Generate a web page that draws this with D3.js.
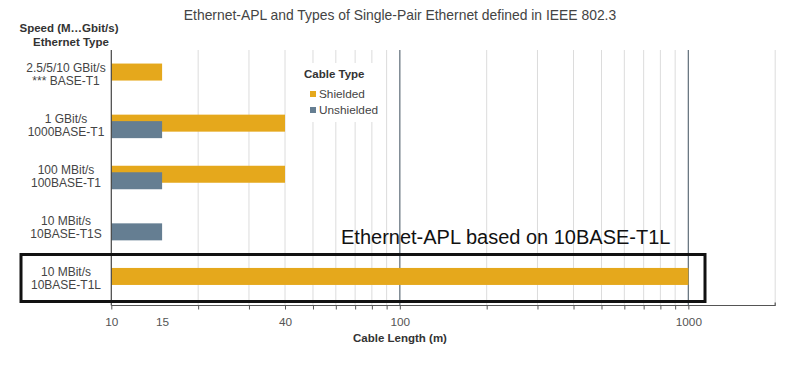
<!DOCTYPE html>
<html><head><meta charset="utf-8">
<script src="https://cdn.jsdelivr.net/npm/d3@7"></script>
<style>body{margin:0;background:#fff}svg{display:block;font-family:"Liberation Sans",Arial,sans-serif}</style>
</head><body><svg id="c" width="800" height="366"></svg>
<script>
const categories = [
  ["2.5/5/10 GBit/s", "*** BASE-T1"],
  ["1 GBit/s", "1000BASE-T1"],
  ["100 MBit/s", "100BASE-T1"],
  ["10 MBit/s", "10BASE-T1S"],
  ["10 MBit/s", "10BASE-T1L"]
];
const shielded   = [15, 40, 40, null, 1000];
const unshielded = [null, 15, 15, 15, null];
const seriesNames = ["Shielded", "Unshielded"];
const gridMinor = [20,30,40,50,60,70,80,90,200,300,400,500,600,700,800,900,2000];
const gridMajor = [100, 1000];
const tickLabels = [10, 15, 40, 100, 1000];
const title = "Ethernet-APL and Types of Single-Pair Ethernet defined in IEEE 802.3";
const annotation = "Ethernet-APL based on 10BASE-T1L";

const svg = d3.select("#c");
const pL = 111.3, pR = 775.2, pT = 50, pB = 305.5;
const x = d3.scaleLog().domain([10, 2000]).range([pL, pR]);
const keys = categories.map((c,i)=>i);
const y = d3.scaleBand().domain(keys).range([pT, pB]).padding(0);
const colors = {Shielded: "#E5A81C", Unshielded: "#657E92"};
const barH = 17;
const offs = {Shielded: -3.5, Unshielded: 3};

// title
svg.append("text").attr("x", 400).attr("y", 20).attr("text-anchor","middle")
  .attr("font-size", 13.9).attr("fill", "#444").text(title);

// y axis title
const yt = svg.append("text").attr("text-anchor","middle").attr("font-weight","bold")
  .attr("font-size", 11.5).attr("fill","#333");
yt.append("tspan").attr("x", 69).attr("y", 32).text("Speed (M…Gbit/s)");
yt.append("tspan").attr("x", 71).attr("y", 46).text("Ethernet Type");

// gridlines
svg.append("g").selectAll("line").data(gridMinor).join("line")
  .attr("x1", d=>x(d)).attr("x2", d=>x(d)).attr("y1", pT).attr("y2", pB)
  .attr("stroke", "#dcdcdc").attr("stroke-width", 1);
svg.append("g").selectAll("line").data(gridMajor).join("line")
  .attr("x1", d=>x(d)).attr("x2", d=>x(d)).attr("y1", pT).attr("y2", pB)
  .attr("stroke", "#6a7782").attr("stroke-width", 1.3);

// legend background
svg.append("rect").attr("x", 298).attr("y", 63).attr("width", 85).attr("height", 59).attr("fill", "#fff");
svg.append("text").attr("x", 304).attr("y", 78).attr("font-weight","bold").attr("font-size", 11.5)
  .attr("fill","#333").text("Cable Type");
const lg = svg.append("g").selectAll("g").data(seriesNames).join("g")
  .attr("transform", (d,i)=>`translate(310,${98 + i*16})`);
lg.append("rect").attr("x", 0).attr("y", -7).attr("width", 6).attr("height", 6).attr("fill", d=>colors[d]);
lg.append("text").attr("x", 9).attr("y", 0).attr("font-size", 11.8).attr("fill","#444").text(d=>d);

// bars
const drawSeries = (name, vals) => {
  svg.append("g").selectAll("rect").data(vals.map((v,i)=>({v,i})).filter(d=>d.v!=null)).join("rect")
    .attr("x", x(10)).attr("width", d=>x(d.v)-x(10))
    .attr("y", d=>y(d.i) + y.bandwidth()/2 + offs[name] - barH/2).attr("height", barH)
    .attr("fill", colors[name]);
};
drawSeries("Shielded", shielded);
drawSeries("Unshielded", unshielded);

// category labels
const cl = svg.append("g").selectAll("text").data(keys).join("text")
  .attr("text-anchor","middle").attr("font-size", 12).attr("fill","#444");
cl.append("tspan").attr("x", 66).attr("y", d=>y(d)+y.bandwidth()/2 - 3.5).text(d=>categories[d][0]);
cl.append("tspan").attr("x", 66).attr("y", d=>y(d)+y.bandwidth()/2 + 9.5).text(d=>categories[d][1]);

// left axis line
svg.append("line").attr("x1", pL).attr("x2", pL).attr("y1", pT).attr("y2", pB)
  .attr("stroke", "#444").attr("stroke-width", 1.2);

// bottom axis: ticks
const ax = svg.append("g").attr("transform", `translate(0,${pB})`)
  .call(d3.axisBottom(x).tickValues([10].concat(gridMinor.filter(v=>v<2000), gridMajor)).tickSize(4).tickFormat(""));
ax.select(".domain").attr("stroke", "#555").attr("stroke-width", 1.2).attr("d", `M${pL},0H${pR}V-3`);
ax.selectAll(".tick line").attr("stroke", "#555");
const axl = svg.append("g").attr("transform", `translate(0,${pB})`)
  .call(d3.axisBottom(x).tickValues(tickLabels).tickSize(0).tickPadding(12).tickFormat(d3.format("d")));
axl.select(".domain").remove();
axl.selectAll("text").attr("font-size", 11.8).attr("fill", "#555");
axl.attr("font-family", null);
ax.attr("font-family", null);

svg.append("text").attr("x", 400).attr("y", 342).attr("text-anchor","middle").attr("font-weight","bold")
  .attr("font-size", 11.5).attr("fill","#333").text("Cable Length (m)");

// annotation
svg.append("text").attr("x", 341).attr("y", 243.5).attr("font-size", 20).attr("fill", "#111").text(annotation);
svg.append("rect").attr("x", 21).attr("y", 254.5).attr("width", 684).attr("height", 47)
  .attr("fill", "none").attr("stroke", "#111").attr("stroke-width", 3);
</script></body></html>
